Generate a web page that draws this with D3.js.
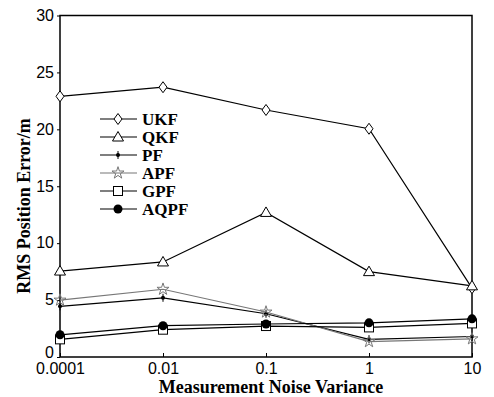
<!DOCTYPE html>
<html>
<head>
<meta charset="utf-8">
<script src="https://cdn.jsdelivr.net/npm/d3@7"></script>
<style>
  body { margin: 0; background: #fff; }
  svg { display: block; }
</style>
</head>
<body>
<div id="chart"></div>
<script>
// categories along x (evenly spaced in the figure)
const noiseLevels = ['0.0001', '0.01', '0.1', '1', '10'];
const yTicks = [0, 5, 10, 15, 20, 25, 30];

// RMS position error per filter
const ukf  = [22.9, 23.7, 21.7, 20.05, 6.05];
const qkf  = [7.55, 8.35, 12.7, 7.5, 6.25];
const pf   = [4.45, 5.2, 3.8, 1.55, 1.8];
const apf  = [5.0, 5.95, 3.95, 1.35, 1.6];
const gpf  = [1.55, 2.4, 2.72, 2.6, 2.95];
const aqpf = [1.95, 2.75, 2.9, 3.0, 3.35];

const seriesNames = ['UKF', 'QKF', 'PF', 'APF', 'GPF', 'AQPF'];
const seriesValues = [ukf, qkf, pf, apf, gpf, aqpf];
const seriesMarkers = ['diamond', 'triangle', 'smalldot', 'star', 'square', 'dot'];
const seriesColors = ['#000', '#000', '#000', '#777', '#000', '#000'];

const width = 494, height = 397;
const margin = { top: 15.5, right: 22, bottom: 40, left: 60 };
const innerW = width - margin.left - margin.right;
const innerH = height - margin.top - margin.bottom;

const svg = d3.select('#chart').append('svg')
  .attr('width', width)
  .attr('height', height);

const g = svg.append('g')
  .attr('transform', `translate(${margin.left},${margin.top})`);

const x = d3.scalePoint().domain(noiseLevels).range([0, innerW]).padding(0);
const y = d3.scaleLinear().domain([0, 30]).range([innerH, 0]);

// frame
g.append('rect')
  .attr('width', innerW).attr('height', innerH)
  .attr('fill', 'none').attr('stroke', '#000').attr('stroke-width', 1.5);

// axes
const xAxis = g.append('g')
  .attr('transform', `translate(0,${innerH})`)
  .call(d3.axisBottom(x).tickSizeInner(-4).tickSizeOuter(0).tickPadding(6));
const yAxis = g.append('g')
  .call(d3.axisLeft(y).tickValues(yTicks).tickSizeInner(3).tickSizeOuter(0).tickPadding(3));

[xAxis, yAxis].forEach(a => {
  a.select('.domain').remove();
  a.selectAll('line').attr('stroke', '#000');
  a.selectAll('text')
    .attr('fill', '#000')
    .style('font-family', '"Liberation Sans", Arial, sans-serif')
    .style('font-size', '16px');
});
// "0" sits just above the first x label, as in the figure
yAxis.selectAll('text').attr('dy', d => d === 0 ? '0.05em' : '0.3em');

// axis titles
svg.append('text')
  .attr('x', margin.left + innerW / 2 + 5)
  .attr('y', 393)
  .attr('text-anchor', 'middle')
  .style('font-family', '"Liberation Serif", "Times New Roman", serif')
  .style('font-size', '18px')
  .style('font-weight', 'bold')
  .text('Measurement Noise Variance');

svg.append('text')
  .attr('transform', 'translate(30,206) rotate(-90)')
  .attr('text-anchor', 'middle')
  .style('font-family', '"Liberation Serif", "Times New Roman", serif')
  .style('font-size', '18px')
  .style('font-weight', 'bold')
  .text('RMS Position Error/m');

// marker drawing
function drawMarker(sel, type, color) {
  if (type === 'diamond') {
    sel.append('path').attr('d', 'M0,-5.5L4,0L0,5.5L-4,0Z')
      .attr('fill', '#fff').attr('stroke', color).attr('stroke-width', 1);
  } else if (type === 'triangle') {
    sel.append('path').attr('d', 'M0,-5.5L5.5,4L-5.5,4Z')
      .attr('fill', '#fff').attr('stroke', color).attr('stroke-width', 1);
  } else if (type === 'square') {
    sel.append('rect').attr('x', -4.5).attr('y', -4.5).attr('width', 9).attr('height', 9)
      .attr('fill', '#fff').attr('stroke', color).attr('stroke-width', 1);
  } else if (type === 'dot') {
    sel.append('circle').attr('r', 4.5).attr('fill', color);
  } else if (type === 'smalldot') {
    sel.append('path').attr('d', 'M0,-4V4').attr('stroke', color).attr('stroke-width', 1);
    sel.append('circle').attr('r', 2).attr('fill', color);
  } else if (type === 'star') {
    sel.append('path').attr('d', d3.symbol(d3.symbolStar, 45)())
      .attr('fill', 'none').attr('stroke', color).attr('stroke-width', 1);
  }
}

const line = d3.line()
  .x((d, i) => x(noiseLevels[i]))
  .y(d => y(d));

seriesValues.forEach((vals, k) => {
  const color = seriesColors[k];
  g.append('path')
    .datum(vals)
    .attr('fill', 'none')
    .attr('stroke', color)
    .attr('stroke-width', 1.2)
    .attr('d', line);
  vals.forEach((v, i) => {
    const m = g.append('g').attr('transform', `translate(${x(noiseLevels[i])},${y(v)})`);
    drawMarker(m, seriesMarkers[k], color);
  });
});

// legend
const legend = svg.append('g').attr('transform', 'translate(100,119)');
seriesNames.forEach((name, k) => {
  const row = legend.append('g').attr('transform', `translate(0,${k * 18})`);
  row.append('line').attr('x1', 0).attr('x2', 37)
    .attr('stroke', seriesColors[k]).attr('stroke-width', 1.2);
  drawMarker(row.append('g').attr('transform', 'translate(18,0)'), seriesMarkers[k], seriesColors[k]);
  row.append('text')
    .attr('x', 42).attr('y', 0).attr('dy', '0.35em')
    .style('font-family', '"Liberation Serif", "Times New Roman", serif')
    .style('font-size', '17px')
    .style('font-weight', 'bold')
    .text(name);
});
</script>
</body>
</html>
